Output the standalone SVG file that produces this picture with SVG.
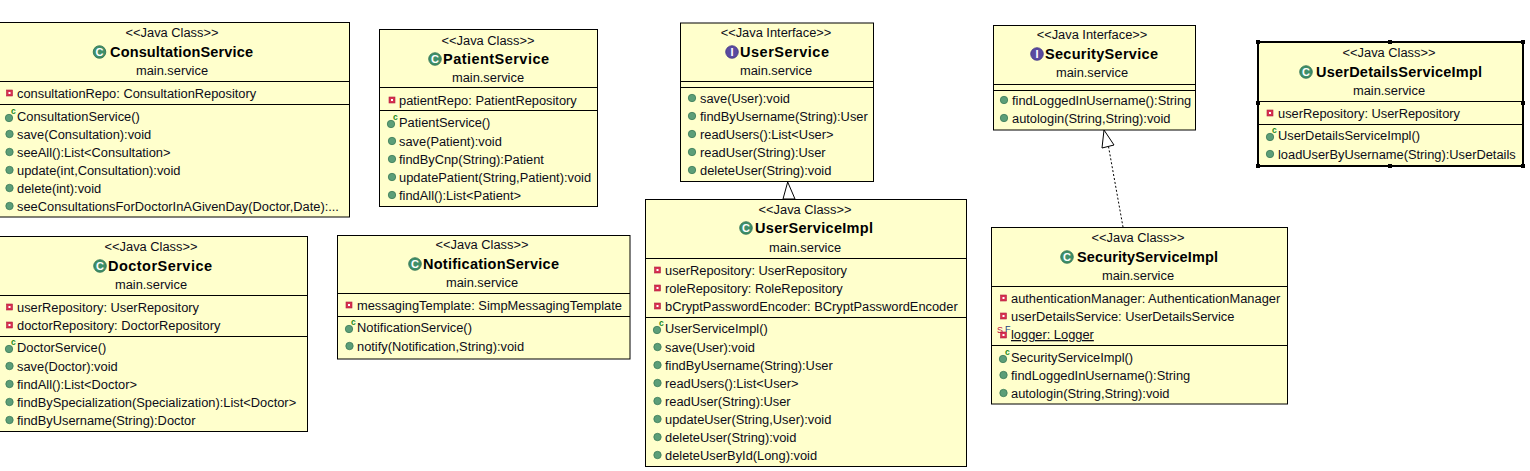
<svg xmlns="http://www.w3.org/2000/svg" width="1530" height="471" viewBox="0 0 1530 471">
<style>
text{font-family:"Liberation Sans",Arial,sans-serif;font-size:12.85px;fill:#0c0c18}
.box{fill:#ffffcc;stroke:#000;stroke-width:1}
.sel{fill:#ffffcc;stroke:#000;stroke-width:2}
.sep{stroke:#000;stroke-width:1;fill:none}
.c{text-anchor:middle}
.n{font-size:14.500px;font-weight:bold;fill:#000}
.ic{font-size:11px;font-weight:bold;fill:#fff;text-anchor:middle}
.sup{font-size:8.500px;font-weight:bold;fill:#1a8a1a}
.red{font-size:9px;fill:#c01040}
.blue{font-size:9px;fill:#204080}
.tri{fill:#fff;stroke:#000;stroke-width:1}
.dash{stroke:#000;stroke-width:1;stroke-dasharray:2 2;fill:none}
</style>
<defs>
<circle id="m" r="3.700" fill="#5c9e78" stroke="#3a7a58" stroke-width="0.800"/>
<circle id="cl" r="6.300" fill="#3f8f6a" stroke="#2d7050" stroke-width="0.800"/>
<circle id="if" r="6.300" fill="#5a4aa0" stroke="#403585" stroke-width="0.800"/>
<g id="f"><rect x="-3" y="-3" width="6" height="6" fill="#d83050" stroke="#b02040" stroke-width="0.600"/><rect x="-1" y="-1" width="2" height="2" fill="#fff"/></g>
<rect id="h" x="-2" y="-2" width="4" height="4" fill="#000"/>
</defs>
<rect width="1530" height="471" fill="#fff"/>

<g id="connectors">
<path class="tri" d="M787.700 182L783 199H795Z"/>
<path class="dash" d="M1108.500 146.500L1123 227"/>
<path class="tri" d="M1104 130L1102 148L1114 145Z"/>
</g>

<g id="ConsultationService">
<rect class="box" x="-6" y="22.500" width="355.500" height="194.500"/>
<path class="sep" d="M-6 81.500H349.500M-6 104.500H349.500"/>
<text class="c" x="172" y="37">&lt;&lt;Java Class&gt;&gt;</text>
<use href="#cl" x="99.500" y="52"/><text class="ic" x="99.500" y="56">C</text>
<text class="n" x="110" y="57" textLength="143">ConsultationService</text>
<text class="c" x="172" y="75">main.service</text>
<use href="#f" x="9.500" y="93"/><text x="17" y="98">consultationRepo: ConsultationRepository</text>
<use href="#m" x="9" y="118"/><text class="sup" x="11" y="114">c</text><text x="17" y="121">ConsultationService()</text>
<use href="#m" x="9.500" y="134"/><text x="17" y="139">save(Consultation):void</text>
<use href="#m" x="9.500" y="152"/><text x="17" y="157">seeAll():List&lt;Consultation&gt;</text>
<use href="#m" x="9.500" y="170"/><text x="17" y="175">update(int,Consultation):void</text>
<use href="#m" x="9.500" y="188"/><text x="17" y="193">delete(int):void</text>
<use href="#m" x="9.500" y="206"/><text x="17" y="211">seeConsultationsForDoctorInAGivenDay(Doctor,Date):...</text>
</g>

<g id="PatientService">
<rect class="box" x="379.500" y="29.500" width="218" height="177"/>
<path class="sep" d="M379.500 87.500H597.500M379.500 110.500H597.500"/>
<text class="c" x="488" y="45">&lt;&lt;Java Class&gt;&gt;</text>
<use href="#cl" x="435" y="59"/><text class="ic" x="435" y="63">C</text>
<text class="n" x="443" y="64" textLength="106">PatientService</text>
<text class="c" x="488" y="82">main.service</text>
<use href="#f" x="392" y="100"/><text x="399" y="105">patientRepo: PatientRepository</text>
<use href="#m" x="391" y="124"/><text class="sup" x="393" y="120">c</text><text x="399" y="127">PatientService()</text>
<use href="#m" x="392" y="141"/><text x="399" y="146">save(Patient):void</text>
<use href="#m" x="392" y="159"/><text x="399" y="164">findByCnp(String):Patient</text>
<use href="#m" x="392" y="177"/><text x="399" y="182">updatePatient(String,Patient):void</text>
<use href="#m" x="392" y="195"/><text x="399" y="200">findAll():List&lt;Patient&gt;</text>
</g>

<g id="DoctorService">
<rect class="box" x="-6" y="236.500" width="313.500" height="195"/>
<path class="sep" d="M-6 295.500H307.500M-6 336.500H307.500"/>
<text class="c" x="151" y="251">&lt;&lt;Java Class&gt;&gt;</text>
<use href="#cl" x="100" y="266"/><text class="ic" x="100" y="270">C</text>
<text class="n" x="108" y="271" textLength="104">DoctorService</text>
<text class="c" x="151" y="289">main.service</text>
<use href="#f" x="9.500" y="307"/><text x="17" y="312">userRepository: UserRepository</text>
<use href="#f" x="9.500" y="325"/><text x="17" y="330">doctorRepository: DoctorRepository</text>
<use href="#m" x="9" y="349"/><text class="sup" x="11" y="345">c</text><text x="17" y="352">DoctorService()</text>
<use href="#m" x="9.500" y="366"/><text x="17" y="371">save(Doctor):void</text>
<use href="#m" x="9.500" y="384"/><text x="17" y="389">findAll():List&lt;Doctor&gt;</text>
<use href="#m" x="9.500" y="402"/><text x="17" y="407">findBySpecialization(Specialization):List&lt;Doctor&gt;</text>
<use href="#m" x="9.500" y="420"/><text x="17" y="425">findByUsername(String):Doctor</text>
</g>

<g id="NotificationService">
<rect class="box" x="337.500" y="235.500" width="292.500" height="123.500"/>
<path class="sep" d="M337.500 293.500H630M337.500 316.500H630"/>
<text class="c" x="482" y="249">&lt;&lt;Java Class&gt;&gt;</text>
<use href="#cl" x="415" y="264"/><text class="ic" x="415" y="268">C</text>
<text class="n" x="423" y="269" textLength="136">NotificationService</text>
<text class="c" x="482" y="287">main.service</text>
<use href="#f" x="349" y="305"/><text x="357" y="310">messagingTemplate: SimpMessagingTemplate</text>
<use href="#m" x="349" y="329"/><text class="sup" x="351" y="325">c</text><text x="357" y="332">NotificationService()</text>
<use href="#m" x="349.500" y="346"/><text x="357" y="351">notify(Notification,String):void</text>
</g>

<g id="UserService">
<rect class="box" x="680.500" y="23" width="193" height="158.500"/>
<path class="sep" d="M680.500 81.500H873.500M680.500 87.500H873.500"/>
<text class="c" x="776" y="37">&lt;&lt;Java Interface&gt;&gt;</text>
<use href="#if" x="732" y="52"/><text class="ic" x="732" y="56">I</text>
<text class="n" x="740" y="57" textLength="89">UserService</text>
<text class="c" x="776" y="75">main.service</text>
<use href="#m" x="692" y="98"/><text x="700" y="103">save(User):void</text>
<use href="#m" x="692" y="116"/><text x="700" y="121">findByUsername(String):User</text>
<use href="#m" x="692" y="134"/><text x="700" y="139">readUsers():List&lt;User&gt;</text>
<use href="#m" x="692" y="152"/><text x="700" y="157">readUser(String):User</text>
<use href="#m" x="692" y="170"/><text x="700" y="175">deleteUser(String):void</text>
</g>

<g id="UserServiceImpl">
<rect class="box" x="645.500" y="199.500" width="321" height="267"/>
<path class="sep" d="M645.500 258.500H966.500M645.500 317.500H966.500"/>
<text class="c" x="805" y="214">&lt;&lt;Java Class&gt;&gt;</text>
<use href="#cl" x="746" y="228"/><text class="ic" x="746" y="232">C</text>
<text class="n" x="755" y="233" textLength="118">UserServiceImpl</text>
<text class="c" x="805" y="252">main.service</text>
<use href="#f" x="657.500" y="270"/><text x="665" y="275">userRepository: UserRepository</text>
<use href="#f" x="657.500" y="288"/><text x="665" y="293">roleRepository: RoleRepository</text>
<use href="#f" x="657.500" y="306"/><text x="665" y="311">bCryptPasswordEncoder: BCryptPasswordEncoder</text>
<use href="#m" x="657" y="330"/><text class="sup" x="659" y="326">c</text><text x="665" y="333">UserServiceImpl()</text>
<use href="#m" x="657.500" y="347"/><text x="665" y="352">save(User):void</text>
<use href="#m" x="657.500" y="365"/><text x="665" y="370">findByUsername(String):User</text>
<use href="#m" x="657.500" y="383"/><text x="665" y="388">readUsers():List&lt;User&gt;</text>
<use href="#m" x="657.500" y="401"/><text x="665" y="406">readUser(String):User</text>
<use href="#m" x="657.500" y="419"/><text x="665" y="424">updateUser(String,User):void</text>
<use href="#m" x="657.500" y="437"/><text x="665" y="442">deleteUser(String):void</text>
<use href="#m" x="657.500" y="455"/><text x="665" y="460">deleteUserById(Long):void</text>
</g>

<g id="SecurityService">
<rect class="box" x="993.500" y="25.500" width="202" height="104.500"/>
<path class="sep" d="M993.500 84.500H1195.500M993.500 90.500H1195.500"/>
<text class="c" x="1092" y="39">&lt;&lt;Java Interface&gt;&gt;</text>
<use href="#if" x="1037" y="54"/><text class="ic" x="1037" y="58">I</text>
<text class="n" x="1045" y="59" textLength="113">SecurityService</text>
<text class="c" x="1092" y="77">main.service</text>
<use href="#m" x="1004" y="100"/><text x="1012" y="105">findLoggedInUsername():String</text>
<use href="#m" x="1004" y="118"/><text x="1012" y="123">autologin(String,String):void</text>
</g>

<g id="SecurityServiceImpl">
<rect class="box" x="991.500" y="227.500" width="296" height="176.500"/>
<path class="sep" d="M991.500 286.500H1287.500M991.500 345.500H1287.500"/>
<text class="c" x="1138" y="242">&lt;&lt;Java Class&gt;&gt;</text>
<use href="#cl" x="1067" y="257"/><text class="ic" x="1067" y="261">C</text>
<text class="n" x="1077" y="262" textLength="141">SecurityServiceImpl</text>
<text class="c" x="1138" y="280">main.service</text>
<use href="#f" x="1003.500" y="298"/><text x="1011" y="303">authenticationManager: AuthenticationManager</text>
<use href="#f" x="1003.500" y="316"/><text x="1011" y="321">userDetailsService: UserDetailsService</text>
<use href="#f" x="1003.500" y="335"/><text class="red" x="997" y="333">S</text><text class="blue" x="1005" y="332">F</text>
<text x="1011" y="339" text-decoration="underline">logger: Logger</text>
<use href="#m" x="1003" y="359"/><text class="sup" x="1005" y="355">c</text><text x="1011" y="362">SecurityServiceImpl()</text>
<use href="#m" x="1003.500" y="375"/><text x="1011" y="380">findLoggedInUsername():String</text>
<use href="#m" x="1003.500" y="393"/><text x="1011" y="398">autologin(String,String):void</text>
</g>

<g id="UserDetailsServiceImpl">
<rect class="sel" x="1258" y="42" width="265" height="124"/>
<path class="sep" d="M1258 101.500H1523M1258 124.500H1523"/>
<text class="c" x="1389" y="57">&lt;&lt;Java Class&gt;&gt;</text>
<use href="#cl" x="1306" y="72"/><text class="ic" x="1306" y="76">C</text>
<text class="n" x="1316" y="77" textLength="166">UserDetailsServiceImpl</text>
<text class="c" x="1389" y="95">main.service</text>
<use href="#f" x="1270" y="113"/><text x="1278" y="118">userRepository: UserRepository</text>
<use href="#m" x="1270" y="137"/><text class="sup" x="1272" y="133">c</text><text x="1278" y="140">UserDetailsServiceImpl()</text>
<use href="#m" x="1270" y="154"/><text x="1278" y="159">loadUserByUsername(String):UserDetails</text>
<use href="#h" x="1258" y="42"/><use href="#h" x="1390" y="42"/><use href="#h" x="1523" y="42"/>
<use href="#h" x="1258" y="103"/><use href="#h" x="1523" y="103"/>
<use href="#h" x="1258" y="166"/><use href="#h" x="1390" y="166"/><use href="#h" x="1523" y="166"/>
</g>
</svg>
